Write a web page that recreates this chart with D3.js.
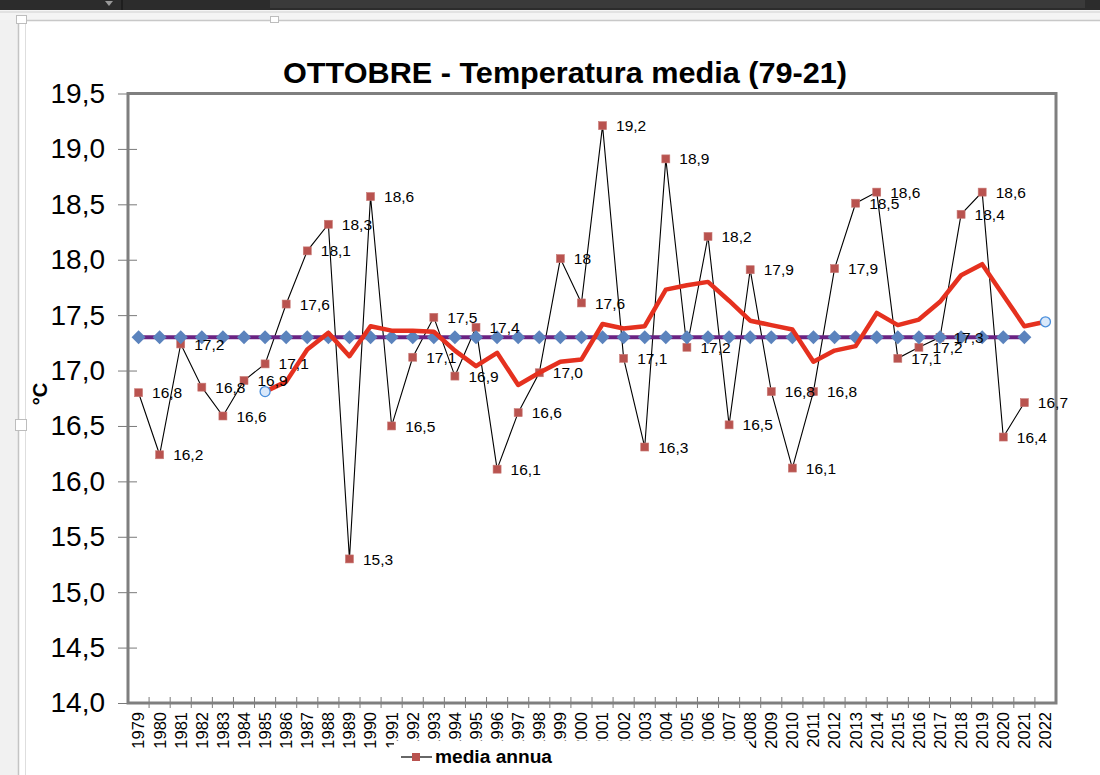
<!DOCTYPE html>
<html>
<head>
<meta charset="utf-8">
<script src="https://cdn.jsdelivr.net/npm/d3@7"></script>
<style>
  html, body { margin: 0; padding: 0; background: #ffffff; }
  svg { display: block; font-family: "Liberation Sans", Arial, sans-serif; }
</style>
</head>
<body>
<svg id="chart" width="1100" height="775"></svg>
<script>
// ---------- DATA ----------
const years = [1979,1980,1981,1982,1983,1984,1985,1986,1987,1988,1989,1990,1991,1992,1993,1994,1995,1996,1997,1998,1999,2000,2001,2002,2003,2004,2005,2006,2007,2008,2009,2010,2011,2012,2013,2014,2015,2016,2017,2018,2019,2020,2021,2022];

// "media annua" (annual October mean), 2022 has no value
const annual = [16.8,16.24,17.24,16.85,16.59,16.91,17.06,17.6,18.08,18.32,15.3,18.57,16.5,17.12,17.48,16.95,17.39,16.11,16.62,16.98,18.01,17.61,19.21,17.11,16.31,18.91,17.21,18.21,16.51,17.91,16.81,16.12,16.81,17.92,18.51,18.61,17.11,17.21,17.3,18.41,18.61,16.4,16.71,null];

// data labels as printed on the chart
const annualLabels = ["16,8","16,2","17,2","16,8","16,6","16,9","17,1","17,6","18,1","18,3","15,3","18,6","16,5","17,1","17,5","16,9","17,4","16,1","16,6","17,0","18","17,6","19,2","17,1","16,3","18,9","17,2","18,2","16,5","17,9","16,8","16,1","16,8","17,9","18,5","18,6","17,1","17,2","17,3","18,4","18,6","16,4","16,7",""];

// mean 1979-2021 (constant line with diamonds)
const meanYears = [1979,1980,1981,1982,1983,1984,1985,1986,1987,1988,1989,1990,1991,1992,1993,1994,1995,1996,1997,1998,1999,2000,2001,2002,2003,2004,2005,2006,2007,2008,2009,2010,2011,2012,2013,2014,2015,2016,2017,2018,2019,2020,2021];
const meanValue = 17.3;

// moving average (red line) 1985-2022
const maYears = [1985,1986,1987,1988,1989,1990,1991,1992,1993,1994,1995,1996,1997,1998,1999,2000,2001,2002,2003,2004,2005,2006,2007,2008,2009,2010,2011,2012,2013,2014,2015,2016,2017,2018,2019,2020,2021,2022];
const maValues = [16.81,16.90,17.19,17.34,17.13,17.40,17.36,17.36,17.35,17.18,17.04,17.16,16.87,16.98,17.08,17.10,17.42,17.38,17.40,17.73,17.77,17.80,17.63,17.45,17.41,17.37,17.08,17.18,17.22,17.52,17.41,17.46,17.62,17.86,17.96,17.68,17.40,17.44];

const yTicks = [14.0,14.5,15.0,15.5,16.0,16.5,17.0,17.5,18.0,18.5,19.0,19.5];

const titleText = "OTTOBRE - Temperatura media (79-21)";
const yTitle = "°C";
const legendText = "media annua";

// ---------- LAYOUT ----------
const svg = d3.select("#chart");
const plotL = 128, plotR = 1056, plotT = 93.5, plotB = 703;

// page chrome
svg.append("rect").attr("x",0).attr("y",0).attr("width",1100).attr("height",775).attr("fill","#ffffff");
svg.append("rect").attr("x",0).attr("y",0).attr("width",18).attr("height",775).attr("fill","#f1f1f1");
svg.append("line").attr("x1",18.5).attr("x2",18.5).attr("y1",14).attr("y2",775).attr("stroke","#c4c4c4").attr("stroke-width",1.5);
svg.append("line").attr("x1",25.5).attr("x2",25.5).attr("y1",20).attr("y2",775).attr("stroke","#dedede").attr("stroke-width",1);
svg.append("rect").attr("x",0).attr("y",10).attr("width",1100).attr("height",10).attr("fill","#f4f4f4");
svg.append("line").attr("x1",18).attr("x2",1100).attr("y1",20.5).attr("y2",20.5).attr("stroke","#c8c8c8").attr("stroke-width",1.5);
svg.append("line").attr("x1",0).attr("x2",1100).attr("y1",12).attr("y2",12).attr("stroke","#d0d0d0").attr("stroke-width",1);
svg.append("rect").attr("x",0).attr("y",0).attr("width",1100).attr("height",10).attr("fill","#2c2c2c");
svg.append("rect").attr("x",270).attr("y",0).attr("width",815).attr("height",8).attr("fill","#3a3a3a");
svg.append("line").attr("x1",122).attr("x2",122).attr("y1",0).attr("y2",10).attr("stroke","#111").attr("stroke-width",1);
svg.append("path").attr("d","M105,1 L113,1 L109,6 Z").attr("fill","#9a9a9a");
svg.append("rect").attr("x",16.5).attr("y",15.5).attr("width",10).attr("height",8).attr("fill","#fff").attr("stroke","#bdbdbd");
svg.append("rect").attr("x",270.5).attr("y",16.5).attr("width",8).attr("height",6).attr("fill","#fff").attr("stroke","#bdbdbd");
svg.append("rect").attr("x",15.5).attr("y",419.5).attr("width",11).attr("height",11).attr("fill","#fff").attr("stroke","#bdbdbd");

// scales
const x = d3.scaleBand().domain(years).range([plotL, plotR]).padding(0);
const cx = yr => x(yr) + x.bandwidth() / 2;
const y = d3.scaleLinear().domain([14, 19.5]).range([plotB, plotT]);
const fmt = d => d3.format(".1f")(d).replace(".", ",");

// title
svg.append("text").attr("x",565).attr("y",83).attr("text-anchor","middle")
  .attr("font-size",30).attr("font-weight","bold").attr("fill","#000")
  .attr("textLength",564).attr("lengthAdjust","spacingAndGlyphs")
  .text(titleText);

// y axis (labels + crossing ticks)
const yAxis = d3.axisLeft(y).tickValues(yTicks).tickFormat(fmt).tickSize(10).tickPadding(13);
const ya = svg.append("g").attr("transform",`translate(${plotL},0)`).call(yAxis);
ya.select(".domain").remove();
ya.selectAll(".tick line").attr("x1",9).attr("x2",-10).attr("stroke","#7a7a7a").attr("stroke-width",1);
ya.selectAll(".tick text").attr("font-size",28).attr("fill","#000")
  .attr("font-family","'Liberation Sans', Arial, sans-serif");

// y title
svg.append("text").attr("transform","translate(47,394) rotate(-90)")
  .attr("text-anchor","middle").attr("font-size",20).attr("font-weight","bold").attr("fill","#000")
  .text(yTitle);

// x axis labels
const xAxis = d3.axisBottom(x).tickSize(0).tickPadding(0);
const xa = svg.append("g").attr("transform",`translate(0,${plotB})`).call(xAxis);
xa.select(".domain").remove();
xa.selectAll(".tick text")
  .attr("transform","rotate(-90)")
  .attr("x",-9).attr("y",0).attr("dy","0.36em")
  .attr("text-anchor","end")
  .attr("font-size",16.5).attr("fill","#000")
  .attr("font-family","'Liberation Sans', Arial, sans-serif");

// x category boundary ticks
svg.append("g").selectAll("line").data(years.slice(1)).join("line")
  .attr("x1",d => x(d)).attr("x2",d => x(d))
  .attr("y1",plotB - 6).attr("y2",plotB + 5)
  .attr("stroke","#7a7a7a").attr("stroke-width",1);

// plot frame
svg.append("rect").attr("x",plotL).attr("y",plotT).attr("width",plotR-plotL).attr("height",plotB-plotT)
  .attr("fill","none").attr("stroke","#7f7f7f").attr("stroke-width",3);

// annual series: black line
const annualPts = years.map((yr,i) => ({yr, v: annual[i], lab: annualLabels[i]})).filter(d => d.v !== null);
svg.append("path").datum(annualPts)
  .attr("d", d3.line().x(d => cx(d.yr)).y(d => y(d.v)))
  .attr("fill","none").attr("stroke","#000").attr("stroke-width",1.1);

// squares
svg.append("g").selectAll("rect").data(annualPts).join("rect")
  .attr("x",d => cx(d.yr) - 4).attr("y",d => y(d.v) - 4)
  .attr("width",8).attr("height",8).attr("fill","#b9534f").attr("stroke","#c97a76").attr("stroke-width",0.6);

// mean purple line
const meanPts = meanYears.map(yr => ({yr, v: meanValue}));
svg.append("path").datum(meanPts)
  .attr("d", d3.line().x(d => cx(d.yr)).y(d => y(d.v)))
  .attr("fill","none").attr("stroke","#6a2383").attr("stroke-width",4);

// diamonds
svg.append("g").selectAll("path").data(meanPts).join("path")
  .attr("d", d => { const px = cx(d.yr), py = y(d.v), r = 7; return `M${px},${py-r} L${px+r},${py} L${px},${py+r} L${px-r},${py} Z`; })
  .attr("fill","#5b83bd");

// moving average red line
const maPts = maYears.map((yr,i) => ({yr, v: maValues[i]}));
svg.append("path").datum(maPts)
  .attr("d", d3.line().x(d => cx(d.yr)).y(d => y(d.v)))
  .attr("fill","none").attr("stroke","#e5311f").attr("stroke-width",4.5).attr("stroke-linejoin","round");

// end circles of moving average
svg.append("g").selectAll("circle").data([maPts[0], maPts[maPts.length-1]]).join("circle")
  .attr("cx",d => cx(d.yr)).attr("cy",d => y(d.v)).attr("r",5)
  .attr("fill","#d9e8fa").attr("stroke","#4a8fdc").attr("stroke-width",1.3);

// data labels
svg.append("g").selectAll("text").data(annualPts).join("text")
  .attr("x",d => cx(d.yr) + 13.5).attr("y",d => y(d.v)).attr("dy","0.36em")
  .attr("font-size",15.5).attr("fill","#000")
  .text(d => d.lab);

// legend box (covers part of the year labels, as in the original)
svg.append("rect").attr("x",394).attr("y",741).attr("width",355).attr("height",34).attr("fill","#ffffff");
svg.append("line").attr("x1",401).attr("x2",432).attr("y1",757).attr("y2",757).attr("stroke","#000").attr("stroke-width",1.2);
svg.append("rect").attr("x",412).attr("y",753).attr("width",8).attr("height",8).attr("fill","#b9534f");
svg.append("text").attr("x",435).attr("y",763).attr("font-size",18).attr("font-weight","bold").attr("fill","#000")
  .attr("textLength",117).attr("lengthAdjust","spacingAndGlyphs")
  .text(legendText);
</script>
</body>
</html>
